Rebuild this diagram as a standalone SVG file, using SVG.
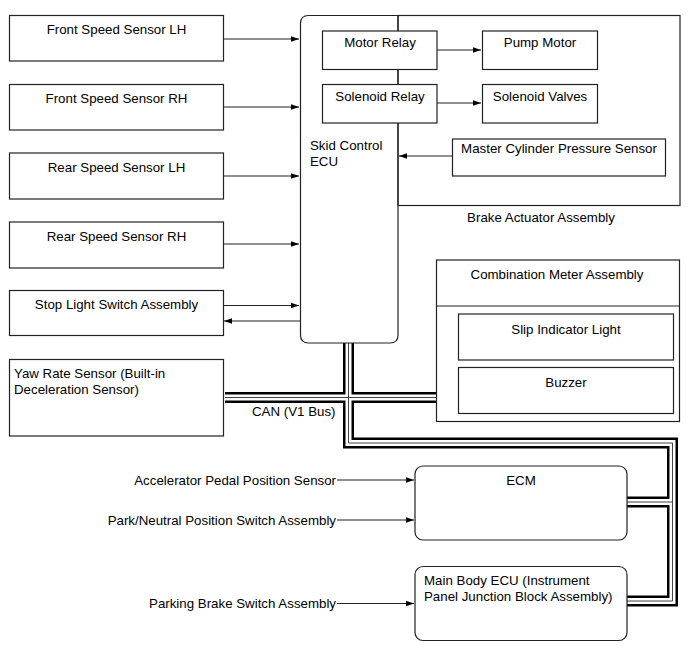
<svg xmlns="http://www.w3.org/2000/svg" width="690" height="659" viewBox="0 0 690 659">
<style>
  text { font-family: "Liberation Sans", Arial, sans-serif; font-size: 13.3px; fill: #000; }
  .box { fill: #fff; stroke: #222; stroke-width: 1.2; }
  .frame { fill: none; stroke: #222; stroke-width: 1.2; }
  .c { text-anchor: middle; }
  .r { text-anchor: end; }
  .wire { fill: none; stroke: #222; stroke-width: 1.2; }
  .bus1 { fill: none; stroke: #000; stroke-width: 11; }
  .bus2 { fill: none; stroke: #fff; stroke-width: 6; }
  .bus3 { fill: none; stroke: #444; stroke-width: 1; }
</style>
<defs>
  <marker id="ah" viewBox="0 0 10 10" refX="10" refY="5" markerWidth="10" markerHeight="8" markerUnits="userSpaceOnUse" orient="auto">
    <path d="M0,1.5 L10,5 L0,8.5 Z" fill="#000"/>
  </marker>
</defs>
<rect width="690" height="659" fill="#fff"/>

<g id="brake-actuator">
  <rect class="frame" x="398" y="15.5" width="282" height="190"/>
  <text class="c" x="541" y="221.5">Brake Actuator Assembly</text>
</g>
<g id="combination-meter">
  <rect class="frame" x="436.5" y="260" width="243" height="161.5"/>
  <line class="wire" x1="436.5" y1="306" x2="679.5" y2="306"/>
  <text class="c" x="557" y="279">Combination Meter Assembly</text>
</g>

<g id="connectors">
  <g id="can-bus">
    <path class="bus1" d="M348.5,343 V443 H672.5 V601 H627 M225,397.5 H436 M672.5,502 H627"/>
    <path class="bus2" d="M348.5,343 V443 H672.5 V601 H627 M225,397.5 H436 M672.5,502 H627"/>
    <path class="bus3" d="M348.5,343 V443 H672.5 V601 H627 M225,397.5 H436 M672.5,502 H627"/>
  </g>
  <line class="wire" x1="223" y1="39" x2="299" y2="39" marker-end="url(#ah)"/>
  <line class="wire" x1="223" y1="107" x2="299" y2="107" marker-end="url(#ah)"/>
  <line class="wire" x1="223" y1="176" x2="299" y2="176" marker-end="url(#ah)"/>
  <line class="wire" x1="223" y1="244" x2="299" y2="244" marker-end="url(#ah)"/>
  <line class="wire" x1="223" y1="305.5" x2="299" y2="305.5" marker-end="url(#ah)"/>
  <line class="wire" x1="300" y1="321" x2="224" y2="321" marker-end="url(#ah)"/>
  <line class="wire" x1="437" y1="50" x2="481" y2="50" marker-end="url(#ah)"/>
  <line class="wire" x1="437" y1="103" x2="481" y2="103" marker-end="url(#ah)"/>
  <line class="wire" x1="452" y1="156" x2="399" y2="156" marker-end="url(#ah)"/>
  <line class="wire" x1="337" y1="480" x2="414" y2="480" marker-end="url(#ah)"/>
  <line class="wire" x1="337" y1="520" x2="414" y2="520" marker-end="url(#ah)"/>
  <line class="wire" x1="337" y1="603.5" x2="414" y2="603.5" marker-end="url(#ah)"/>
</g>

<g id="front-lh"><rect class="box" x="9.5" y="15.5" width="214" height="45.5"/><text class="c" x="116.5" y="34">Front Speed Sensor LH</text></g>
<g id="front-rh"><rect class="box" x="9.5" y="84.5" width="214" height="45.5"/><text class="c" x="116.5" y="103">Front Speed Sensor RH</text></g>
<g id="rear-lh"><rect class="box" x="9.5" y="153" width="214" height="46"/><text class="c" x="116.5" y="171.5">Rear Speed Sensor LH</text></g>
<g id="rear-rh"><rect class="box" x="9.5" y="222" width="214" height="46"/><text class="c" x="116.5" y="240.5">Rear Speed Sensor RH</text></g>
<g id="stop-light"><rect class="box" x="9.5" y="290.5" width="214" height="45"/><text class="c" x="116.5" y="308.5">Stop Light Switch Assembly</text></g>
<g id="yaw-rate"><rect class="box" x="9.5" y="359.5" width="214" height="76.5"/><text x="14" y="377.5">Yaw Rate Sensor (Built-in</text><text x="14" y="394">Deceleration Sensor)</text></g>
<text id="can-label" x="252" y="415.5">CAN (V1 Bus)</text>

<g id="skid-ecu">
  <path class="frame" d="M398,15.5 H308.5 Q300.5,15.5 300.5,23.5 V335 Q300.5,343 308.5,343 H390 Q398,343 398,335 Z"/>
  <text x="310" y="150">Skid Control</text>
  <text x="310" y="166">ECU</text>
</g>
<g id="motor-relay"><rect class="box" x="322.5" y="31" width="114.5" height="38.5"/><text class="c" x="380" y="47">Motor Relay</text></g>
<g id="pump-motor"><rect class="box" x="482.5" y="31" width="115" height="38.5"/><text class="c" x="540" y="47">Pump Motor</text></g>
<g id="solenoid-relay"><rect class="box" x="322.5" y="84.5" width="114.5" height="38.5"/><text class="c" x="380" y="100.5">Solenoid Relay</text></g>
<g id="solenoid-valves"><rect class="box" x="482.5" y="84.5" width="115" height="38.5"/><text class="c" x="540" y="100.5">Solenoid Valves</text></g>
<g id="master-cyl"><rect class="box" x="452.5" y="139" width="213" height="37"/><text class="c" x="559" y="153">Master Cylinder Pressure Sensor</text></g>

<g id="slip-indicator"><rect class="box" x="458.5" y="314" width="215" height="46"/><text class="c" x="566" y="333.5">Slip Indicator Light</text></g>
<g id="buzzer"><rect class="box" x="458.5" y="367.5" width="215" height="46"/><text class="c" x="566" y="387">Buzzer</text></g>

<g id="ecm"><rect class="box" x="415" y="466" width="212" height="74" rx="8" ry="8"/><text class="c" x="521" y="484.5">ECM</text></g>
<g id="main-body-ecu"><rect class="box" x="415" y="566.5" width="212" height="74" rx="8" ry="8"/><text x="424" y="584.5">Main Body ECU (Instrument</text><text x="424" y="601">Panel Junction Block Assembly)</text></g>

<text class="r" x="336" y="484.5">Accelerator Pedal Position Sensor</text>
<text class="r" x="336" y="524.5">Park/Neutral Position Switch Assembly</text>
<text class="r" x="336" y="608">Parking Brake Switch Assembly</text>
</svg>
